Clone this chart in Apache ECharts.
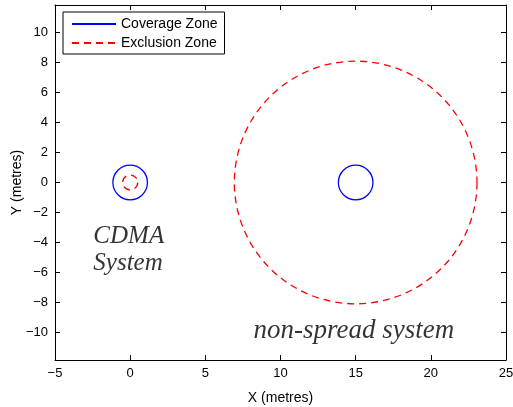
<!DOCTYPE html>
<html>
<head>
<meta charset="utf-8">
<script src="https://cdn.jsdelivr.net/npm/echarts@6/dist/echarts.min.js"></script>
<style>
  html, body { margin: 0; padding: 0; background: #fff; }
  #main { width: 513px; height: 407px; }
</style>
</head>
<body>
<div id="main"></div>
<script>
  // zones: [centreX, centreY, radius]
  var coverageZones = [[0, 0, 1.15], [15, 0, 1.15]];
  var exclusionZones = [[0, 0, 0.5], [15, 0, 8.07]];
  var yTicks = [-10, -8, -6, -4, -2, 0, 2, 4, 6, 8, 10];
  var notes = [
    [-2.45, -4.5, 'CDMA\nSystem'],
    [8.2, -9.9, 'non-spread system']
  ];

  var myChart = echarts.init(document.getElementById('main'));

  function minus(v) {
    return String(v).replace('-', '\u2212');
  }

  function circleItem(color, dash) {
    return function (params, api) {
      var c = api.coord([api.value(0), api.value(1)]);
      var r = api.size([api.value(2), 0])[0];
      return {
        type: 'circle',
        shape: { cx: c[0], cy: c[1], r: r },
        style: { fill: 'none', stroke: color, lineWidth: 1.3, lineDash: dash }
      };
    };
  }

  var axisFont = { fontFamily: 'Liberation Sans', fontSize: 13, color: '#000' };

  var option = {
    animation: false,
    grid: { left: 55, right: 7, top: 5, bottom: 47, outerBoundsMode: 'none', containLabel: false },
    legend: {
      data: ['Coverage Zone', 'Exclusion Zone'],
      orient: 'vertical',
      left: 63,
      top: 12,
      itemWidth: 44,
      itemHeight: 14,
      itemGap: 5,
      padding: [5, 7, 4, 8],
      borderColor: '#000',
      borderWidth: 1,
      backgroundColor: '#fff',
      itemStyle: { opacity: 0 },
      textStyle: { fontFamily: 'Liberation Sans', fontSize: 14, color: '#000' }
    },
    xAxis: [{
      type: 'value', min: -5, max: 25, interval: 5,
      name: 'X (metres)', nameLocation: 'middle', nameGap: 31,
      nameTextStyle: { fontFamily: 'Liberation Sans', fontSize: 14, color: '#000' },
      axisLine: { onZero: false, lineStyle: { color: '#000', width: 1 } },
      axisTick: { inside: true, length: 5, lineStyle: { color: '#000' } },
      axisLabel: Object.assign({ margin: 7, formatter: minus }, axisFont),
      splitLine: { show: false }
    }, {
      type: 'value', position: 'top', min: -5, max: 25, interval: 5,
      axisLine: { onZero: false, lineStyle: { color: '#000', width: 1 } },
      axisTick: { inside: true, length: 5, lineStyle: { color: '#000' } },
      axisLabel: { show: false },
      splitLine: { show: false }
    }],
    yAxis: [{
      type: 'value', min: -11.85, max: 11.85,
      name: 'Y (metres)', nameLocation: 'middle', nameGap: 31, nameMoveOverlap: false,
      nameTextStyle: { fontFamily: 'Liberation Sans', fontSize: 14, color: '#000' },
      axisLine: { show: true, onZero: false, lineStyle: { color: '#000', width: 1 } },
      axisTick: { show: true, inside: true, length: 5, customValues: yTicks, lineStyle: { color: '#000' } },
      axisLabel: Object.assign({ margin: 7, customValues: yTicks, formatter: minus }, axisFont),
      splitLine: { show: false }
    }, {
      type: 'value', position: 'right', min: -11.85, max: 11.85,
      axisLine: { show: true, onZero: false, lineStyle: { color: '#000', width: 1 } },
      axisTick: { show: true, inside: true, length: 5, customValues: yTicks, lineStyle: { color: '#000' } },
      axisLabel: { show: false },
      splitLine: { show: false }
    }],
    series: [
      {
        name: 'Coverage Zone', type: 'line', data: [], symbol: 'none',
        lineStyle: { color: '#0000ff', width: 1.3 }, itemStyle: { color: '#0000ff' }
      },
      {
        name: 'Exclusion Zone', type: 'line', data: [], symbol: 'none',
        lineStyle: { color: '#ff0000', width: 1.3, type: [7, 5] }, itemStyle: { color: '#ff0000' }
      },
      {
        name: 'coverage', type: 'custom', data: coverageZones,
        renderItem: circleItem('#0000ff', null), silent: true
      },
      {
        name: 'exclusion', type: 'custom', data: exclusionZones,
        renderItem: circleItem('#ff0000', [7, 5]), silent: true
      },
      {
        name: 'notes', type: 'scatter', symbolSize: 0, silent: true,
        data: [
          { value: notes[0], label: { fontSize: 25, lineHeight: 27 } },
          { value: notes[1], label: { fontSize: 27 } }
        ],
        label: {
          show: true, position: 'inside', align: 'left', verticalAlign: 'middle',
          formatter: function (p) { return p.value[2]; },
          fontFamily: 'Liberation Serif', fontStyle: 'italic', color: '#000',
          textBorderWidth: 0
        }
      }
    ]
  };
  myChart.setOption(option);
</script>
</body>
</html>
